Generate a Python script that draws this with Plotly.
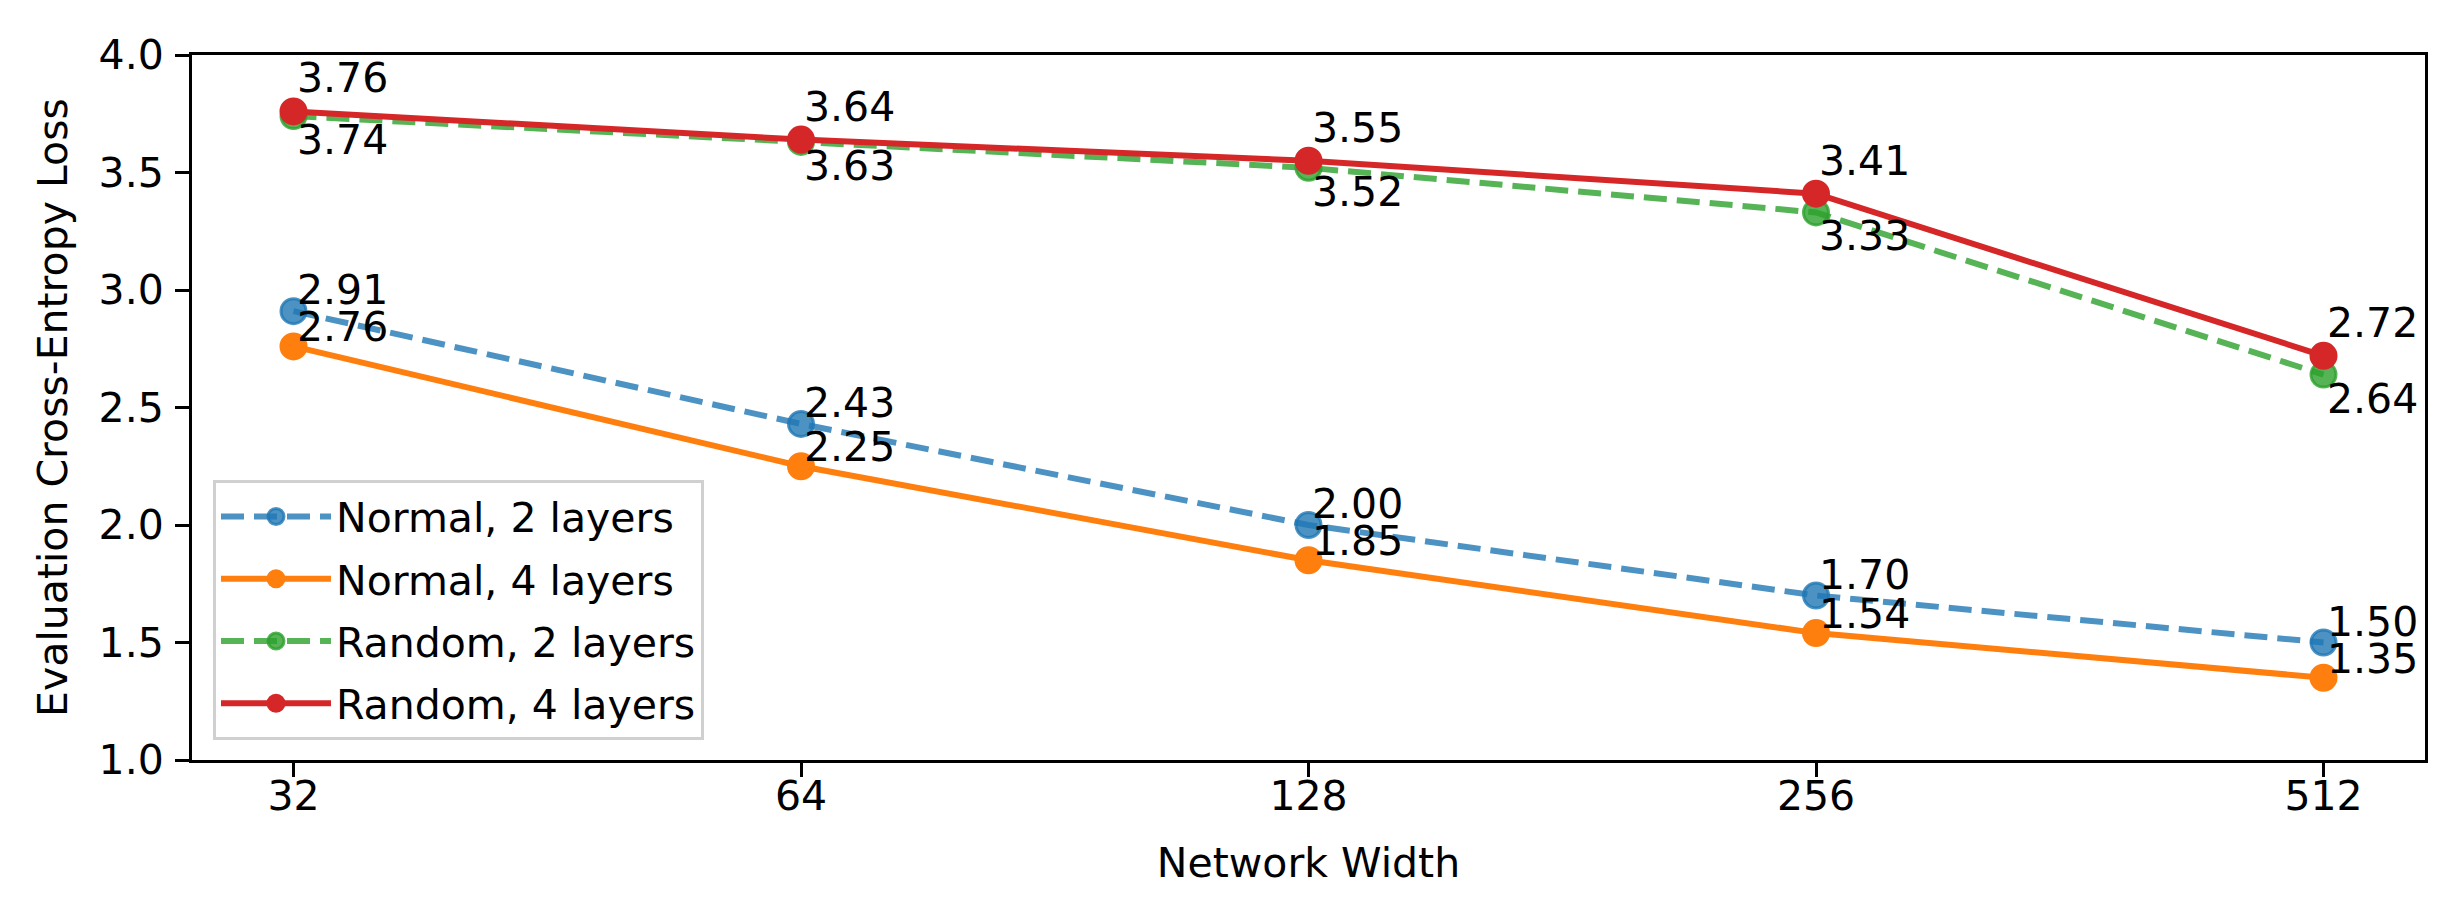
import plotly.graph_objects as go

widths = ["32", "64", "128", "256", "512"]

normal_2 = [2.91, 2.43, 2.00, 1.70, 1.50]
normal_4 = [2.76, 2.25, 1.85, 1.54, 1.35]
random_2 = [3.74, 3.63, 3.52, 3.33, 2.64]
random_4 = [3.76, 3.64, 3.55, 3.41, 2.72]

y_ticks = [1.0, 1.5, 2.0, 2.5, 3.0, 3.5, 4.0]

FONT = "DejaVu Sans"
FS = 41

# name, values, rgb, dash, alpha, label offset in px (up is positive)
series = [
    ("Normal, 2 layers", normal_2, (31, 119, 180), "23px,10px", 0.8, 21),
    ("Normal, 4 layers", normal_4, (255, 127, 14), "solid", 1.0, 19),
    ("Random, 2 layers", random_2, (44, 160, 44), "23px,10px", 0.8, -24),
    ("Random, 4 layers", random_4, (214, 39, 40), "solid", 1.0, 33),
]

fig = go.Figure()

for i, (name, vals, rgb, dash, alpha, dy) in enumerate(series):
    c = "rgba(%d,%d,%d,%s)" % (*rgb, alpha)
    fig.add_trace(go.Scatter(
        x=widths, y=vals, name=name, mode="lines+markers",
        line=dict(color=c, width=6, dash=dash),
        marker=dict(color=c, size=25, line=dict(width=3, color=c)),
        legendgroup=f"g{i}",
    ))
    for k, yv in enumerate(vals):
        # category axis: annotation x is the category index
        fig.add_annotation(
            x=k, y=yv, text=f"{yv:.2f}", showarrow=False,
            xanchor="left", yanchor="middle", xshift=1, yshift=dy,
            font=dict(family=FONT, size=FS, color="black"),
        )

fig.update_layout(
    width=2446, height=913,
    paper_bgcolor="white", plot_bgcolor="white",
    margin=dict(l=184, r=29, t=47, b=161),
    font=dict(family=FONT, size=FS, color="black"),
    showlegend=True,
    legend=dict(
        x=0.0094, y=0.028, xanchor="left", yanchor="bottom",
        bgcolor="rgba(255,255,255,0.8)", bordercolor="#d0d0d0", borderwidth=3,
        font=dict(family=FONT, size=FS, color="black"),
        itemwidth=110, tracegroupgap=6, traceorder="grouped",
    ),
)

fig.update_xaxes(
    type="category", range=[-0.2, 4.2],
    showline=True, linecolor="black", linewidth=3, mirror=True,
    ticks="outside", ticklen=14, tickwidth=3, tickcolor="black",
    ticklabelstandoff=-16,
    showgrid=False, zeroline=False,
    title=dict(text="Network Width", font=dict(family=FONT, size=FS), standoff=30),
)
fig.update_yaxes(
    range=[1.0, 4.0], tickvals=y_ticks, tickformat=".1f",
    showline=True, linecolor="black", linewidth=3, mirror=True,
    ticks="outside", ticklen=14, tickwidth=3, tickcolor="black",
    ticklabelstandoff=3,
    showgrid=False, zeroline=False,
    title=dict(text="Evaluation Cross-Entropy Loss", font=dict(family=FONT, size=FS), standoff=19),
)

fig.write_html("out.html")
